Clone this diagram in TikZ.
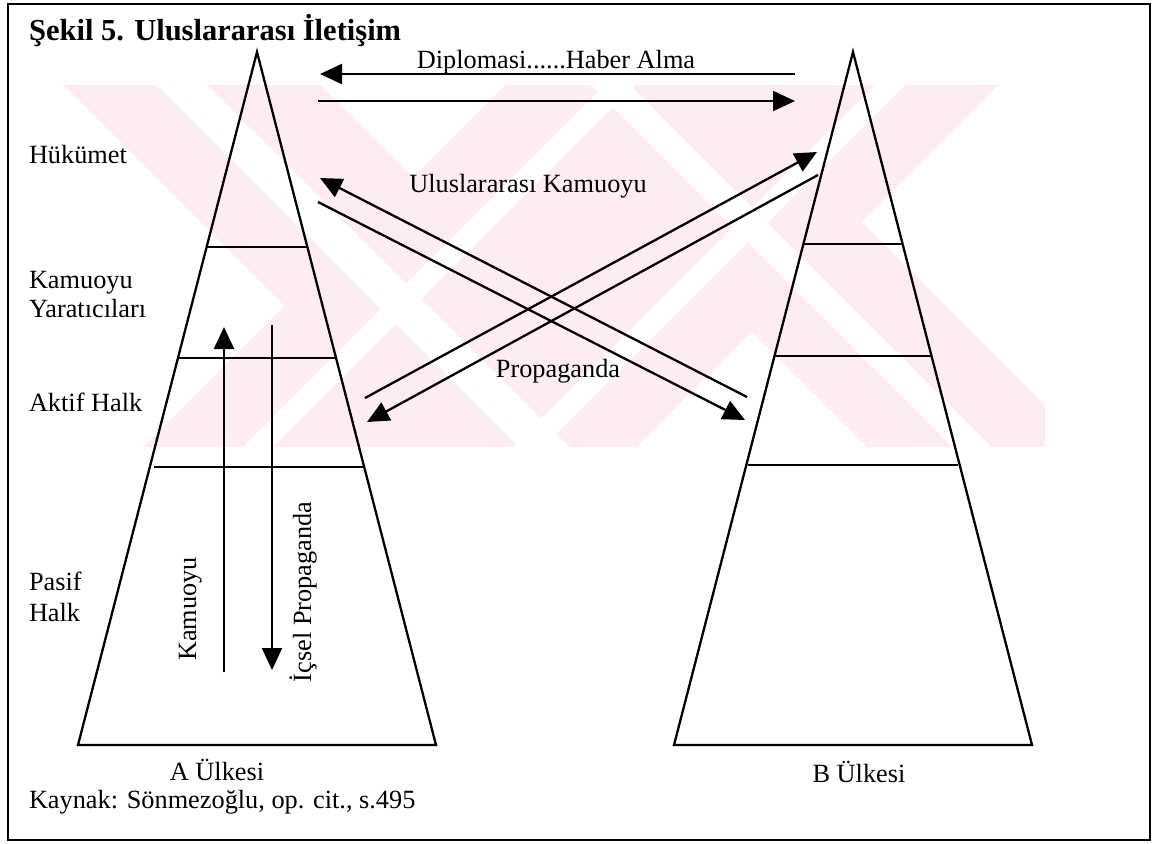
\documentclass[tikz,border=0pt]{standalone}
\usepackage{fontspec}
\setmainfont{Liberation Serif}
\usetikzlibrary{arrows.meta}
\definecolor{wmpink}{RGB}{253,236,240}
\begin{document}
\begin{tikzpicture}[x=1pt,y=-1pt,
  txt/.style={font=\fontsize{26.3}{31}\selectfont, inner sep=0pt, outer sep=0pt},
  ttl/.style={font=\fontsize{30.5}{36}\selectfont\bfseries, inner sep=0pt},
  edge/.style={line width=2.3pt, line join=miter},
  level/.style={line width=2.3pt},
  arr/.style={line width=2.3pt, -{Triangle[length=22pt,width=20pt]}},
  frame/.style={line width=2pt},
  wmgap/.style={fill=white, draw=none}]
\useasboundingbox (0,0) rectangle (1155,843);
% watermark (faint background)
\begin{scope}
\clip (55,85) rectangle (1045,447);
\fill[wmpink] (55,85) rectangle (1045,447);
% top-left corner
\fill[wmgap] (40,85) -- (63,85) -- (284,306) -- (143,447) -- (40,447) -- cycle;
\fill[wmgap] (320,85) -- (412.5,177.5) -- (505,85) -- cycle;
% diagonal gaps "\"
\foreach \a/\b in {72/122, 505/545}
  \fill[wmgap] (\a+85,85) -- (\b+85,85) -- (\b+447,447) -- (\a+447,447) -- cycle;
% diagonal gaps "/"
\foreach \a/\b in {690/720, 960/990}
  \fill[wmgap] (\a-85,85) -- (\b-85,85) -- (\b-447,447) -- (\a-447,447) -- cycle;
% lower-right and top-right
\fill[wmgap] (636,447) -- (751.5,331.5) -- (867,447) -- cycle;
\fill[wmgap] (998,85) -- (861.5,221.5) -- (1100,460) -- (1100,85) -- cycle;
\end{scope}
% frame
\draw[frame] (8,4) rectangle (1150,840);
% title
\node[ttl, anchor=base west] (title) at (29,41) {Şekil 5. Uluslararası İletişim};
% pyramid A
\coordinate (Aap) at (257,52);
\coordinate (Abl) at (78,745);
\coordinate (Abr) at (436,745);
\draw[edge] (Aap) -- (Abr) -- (Abl) -- cycle;
\coordinate (A1l) at (206.6,247); \coordinate (A1r) at (307.4,247);
\coordinate (A2l) at (178,358);   \coordinate (A2r) at (336,358);
\coordinate (A3l) at (154,467);   \coordinate (A3r) at (363,467);
\draw[level] (A1l) -- (A1r);
\draw[level] (A2l) -- (A2r);
\draw[level] (A3l) -- (A3r);
% pyramid B
\coordinate (Bap) at (853,52);
\coordinate (Bbl) at (674,745);
\coordinate (Bbr) at (1032,745);
\draw[edge] (Bap) -- (Bbr) -- (Bbl) -- cycle;
\coordinate (B1l) at (803.4,244); \coordinate (B1r) at (902.6,244);
\coordinate (B2l) at (774.5,356); \coordinate (B2r) at (931.5,356);
\coordinate (B3l) at (748,465);   \coordinate (B3r) at (958,465);
\draw[level] (B1l) -- (B1r);
\draw[level] (B2l) -- (B2r);
\draw[level] (B3l) -- (B3r);
% left labels
\node[txt, anchor=base west] (hk) at (29,163) {Hükümet};
\node[txt, anchor=base west] (ky1) at (29,288) {Kamuoyu};
\node[txt, anchor=base west] (ky2) at (29,317) {Yaratıcıları};
\node[txt, anchor=base west] (ah) at (29,411) {Aktif Halk};
\node[txt, anchor=base west] (ph1) at (29,590) {Pasif};
\node[txt, anchor=base west] (ph2) at (29,621) {Halk};
% middle labels
\node[txt, anchor=base] (dip) at (556,68) {Diplomasi......Haber Alma};
\node[txt, anchor=base] (uk) at (528,192) {Uluslararası Kamuoyu};
\node[txt, anchor=base] (prop) at (558,377) {Propaganda};
% bottom labels
\node[txt, anchor=base] (aul) at (217,780) {A Ülkesi};
\node[txt, anchor=base] (bul) at (859,782) {B Ülkesi};
\node[txt, anchor=base west] (src) at (29,808) {Kaynak: Sönmezoğlu, op. cit., s.495};
% vertical labels
\node[txt, rotate=90, anchor=base] (kam) at (196,609) {Kamuoyu};
\node[txt, rotate=90, anchor=base] (icp) at (311,592) {İçsel Propaganda};
% arrow endpoints
\coordinate (d1s) at (795,74);  \coordinate (d1e) at (320,74);
\coordinate (d2s) at (318,101); \coordinate (d2e) at (795,101);
\coordinate (x1s) at (747,397); \coordinate (x1e) at (320,178);
\coordinate (x2s) at (318,202); \coordinate (x2e) at (745,420);
\coordinate (y1s) at (365,398); \coordinate (y1e) at (817,152);
\coordinate (y2s) at (818,175); \coordinate (y2e) at (367,422);
\coordinate (kus) at (224,672); \coordinate (kue) at (224,327);
\coordinate (ips) at (272,325); \coordinate (ipe) at (272,670);
\draw[arr] (d1s) -- (d1e);
\draw[arr] (d2s) -- (d2e);
\draw[arr] (x1s) -- (x1e);
\draw[arr] (x2s) -- (x2e);
\draw[arr] (y1s) -- (y1e);
\draw[arr] (y2s) -- (y2e);
\draw[arr] (kus) -- (kue);
\draw[arr] (ips) -- (ipe);
\end{tikzpicture}
\end{document}
